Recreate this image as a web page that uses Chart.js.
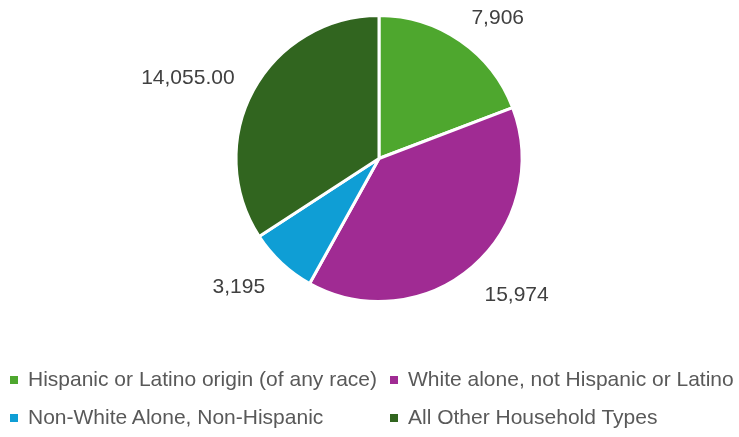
<!DOCTYPE html>
<html>
<head>
<meta charset="utf-8">
<script src="https://cdn.jsdelivr.net/npm/chart.js@4.4.0/dist/chart.umd.min.js"></script>
<style>
  html, body { margin: 0; padding: 0; background: #fff; }
  #wrap { position: relative; width: 739px; height: 437px; }
  #chart { position: absolute; left: 0; top: 0; }
  .leg { position: absolute; font-family: "Liberation Sans", Arial, sans-serif; font-size: 21px; color: #595959; white-space: nowrap; line-height: 22px; }
  .leg i { display: inline-block; width: 8px; height: 8px; margin-right: 10px; vertical-align: 2px; }
</style>
</head>
<body>
<div id="wrap">
  <canvas id="chart" width="739" height="437"></canvas>
  <div id="legend"></div>
</div>
<script>
// ---------------- 資料 ----------------
const categories = [
  'Hispanic or Latino origin (of any race)',
  'White alone, not Hispanic or Latino',
  'Non-White Alone, Non-Hispanic',
  'All Other Household Types'
];
const values = [7906, 15974, 3195, 14055];
const valueLabels = ['7,906', '15,974', '3,195', '14,055.00'];
const colors = ['#4EA72E', '#A02B93', '#0F9ED5', '#31651F'];

// ---------------- 資料標籤 plugin ----------------
// 標籤放在扇形外側，角度略往水平方向偏
const outsideLabels = {
  id: 'outsideLabels',
  afterDatasetsDraw(chart) {
    const c = chart.ctx;
    const meta = chart.getDatasetMeta(0);
    const nudge = 5 * Math.PI / 180;
    c.save();
    c.font = '21px "Liberation Sans", Arial, sans-serif';
    c.fillStyle = '#404040';
    c.textAlign = 'center';
    c.textBaseline = 'middle';
    meta.data.forEach((arc, i) => {
      let mid = (arc.startAngle + arc.endAngle) / 2;
      // 往水平方向推一點
      const toHoriz = Math.cos(mid) >= 0 ? 0 : Math.PI;
      let diff = Math.atan2(Math.sin(toHoriz - mid), Math.cos(toHoriz - mid));
      mid += Math.sign(diff) * nudge;
      const txt = valueLabels[i];
      const w = c.measureText(txt).width;
      const r = arc.outerRadius + 29 + 0.85 * (w / 2) * Math.abs(Math.cos(mid));
      c.fillText(txt, arc.x + Math.cos(mid) * r, arc.y + Math.sin(mid) * r + 3);
    });
    c.restore();
  }
};

// ---------------- Chart.js ----------------
const chart = new Chart(document.getElementById('chart'), {
  type: 'pie',
  data: {
    labels: categories,
    datasets: [{ data: values, backgroundColor: colors, borderColor: '#fff', borderWidth: 3 }]
  },
  options: {
    responsive: false,
    animation: false,
    layout: { padding: { top: 14, bottom: 134, left: 19, right: 0 } },
    plugins: { legend: { display: false }, tooltip: { enabled: false } }
  },
  plugins: [outsideLabels]
});

// ---------------- 圖例 ----------------
const legendPos = [[10, 368], [390, 368], [10, 406], [390, 406]];
const legendEl = document.getElementById('legend');
categories.forEach((name, i) => {
  const d = document.createElement('div');
  d.className = 'leg';
  d.style.left = legendPos[i][0] + 'px';
  d.style.top = legendPos[i][1] + 'px';
  d.innerHTML = `<i style="background:${colors[i]}"></i>${name}`;
  legendEl.appendChild(d);
});
</script>
</body>
</html>
